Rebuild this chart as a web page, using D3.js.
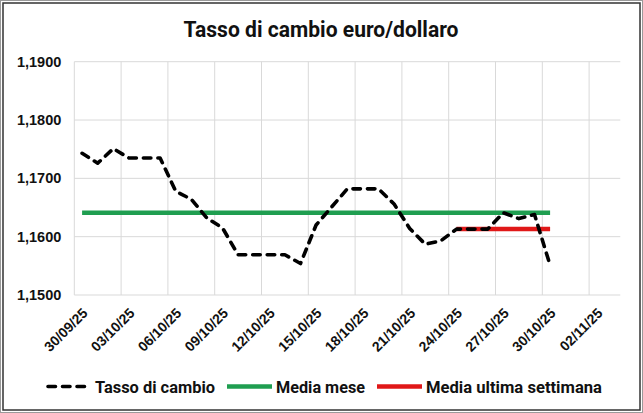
<!DOCTYPE html>
<html><head><meta charset="utf-8">
<script src="https://cdn.jsdelivr.net/npm/d3@7"></script>
<style>body{margin:0;background:#fff}svg{display:block}</style>
</head><body><svg id="c" width="643" height="413"></svg>
<script>
// ---- data ----
const dates = ["2025-09-30","2025-10-01","2025-10-02","2025-10-03","2025-10-04","2025-10-05","2025-10-06","2025-10-07","2025-10-08","2025-10-09","2025-10-10","2025-10-11","2025-10-12","2025-10-13","2025-10-14","2025-10-15","2025-10-16","2025-10-17","2025-10-18","2025-10-19","2025-10-20","2025-10-21","2025-10-22","2025-10-23","2025-10-24","2025-10-25","2025-10-26","2025-10-27","2025-10-28","2025-10-29","2025-10-30"];
const rates = [1.1743,1.1726,1.1751,1.1735,1.1735,1.1735,1.1678,1.1664,1.1632,1.1615,1.1569,1.1569,1.1569,1.1569,1.1554,1.1620,1.1651,1.1682,1.1682,1.1682,1.1656,1.1614,1.1587,1.1593,1.1613,1.1613,1.1613,1.1641,1.1631,1.1638,1.1551];
const monthMean = 1.1641;
const weekMean = 1.1613;
const weekStart = "2025-10-24";
const yTicks = [1.15,1.16,1.17,1.18,1.19];
const xTicks = ["2025-09-30","2025-10-03","2025-10-06","2025-10-09","2025-10-12","2025-10-15","2025-10-18","2025-10-21","2025-10-24","2025-10-27","2025-10-30","2025-11-02"];
const axisStart = "2025-09-30", axisEnd = "2025-11-04";
const title = "Tasso di cambio euro/dollaro";
const seriesNames = ["Tasso di cambio","Media mese","Media ultima settimana"];

// ---- layout ----
const svg = d3.select("#c");
const parse = d3.utcParse("%Y-%m-%d");
const fmt = d3.utcFormat("%d/%m/%y");
const half = 12*3600*1000;
const mid = s => new Date(parse(s).getTime()+half);
const x = d3.scaleUtc().domain([parse(axisStart), parse(axisEnd)]).range([74.3, 620.3]);
const y = d3.scaleLinear().domain([1.15,1.19]).range([295, 61.7]);
const GREEN="#1f9e50", RED="#e01818";

svg.append("rect").attr("x",0.5).attr("y",0.5).attr("width",642).attr("height",412).attr("fill","#fff").attr("stroke","#9a9a9a");
svg.append("rect").attr("x",3).attr("y",3).attr("width",637).attr("height",407).attr("fill","none").attr("stroke","#333").attr("stroke-width",1.5);

svg.append("text").attr("x",321).attr("y",36.5).attr("text-anchor","middle")
  .attr("font-family","Roboto, 'Liberation Sans', sans-serif").attr("font-weight",700).attr("font-size",22)
  .attr("textLength",275).attr("lengthAdjust","spacingAndGlyphs").attr("fill","#111").text(title);

// grid
const g = svg.append("g");
g.selectAll("line.h").data(yTicks).join("line")
  .attr("x1",x.range()[0]).attr("x2",x.range()[1]).attr("y1",d=>y(d)).attr("y2",d=>y(d))
  .attr("stroke","#d9d9d9").attr("stroke-width",1);
g.selectAll("line.v").data(xTicks).join("line")
  .attr("x1",d=>x(parse(d))).attr("x2",d=>x(parse(d))).attr("y1",y(1.19)).attr("y2",y(1.15))
  .attr("stroke","#d9d9d9").attr("stroke-width",1);

// y axis labels
const yAxis = d3.axisLeft(y).tickValues(yTicks).tickSize(0).tickPadding(13)
  .tickFormat(d=>d3.format(".4f")(d).replace(".",","));
const ya = svg.append("g").attr("transform",`translate(${x.range()[0]},0)`).call(yAxis);
ya.select(".domain").remove();
ya.selectAll("text").attr("font-family","'Liberation Sans', Arial, sans-serif").attr("font-weight",700).attr("font-size",14.5).attr("fill","#111");

// x axis labels
const xAxis = d3.axisBottom(x).tickValues(xTicks.map(mid)).tickSize(0).tickFormat(fmt);
const xa = svg.append("g").attr("transform",`translate(0,${y(1.15)})`).call(xAxis);
xa.select(".domain").remove();
xa.selectAll("text").attr("font-family","'Liberation Sans', Arial, sans-serif").attr("font-weight",700).attr("font-size",14).attr("fill","#111")
  .attr("text-anchor","end").attr("dy",null).attr("y",0)
  .attr("transform","translate(6,19) rotate(-45)");

// series
const pts = dates.map((d,i)=>({d:mid(d), v:rates[i]}));
const line = d3.line().x(p=>x(p.d)).y(p=>y(p.v));
svg.append("path").datum([{d:mid(dates[0]),v:monthMean},{d:mid(dates[dates.length-1]),v:monthMean}])
  .attr("d",line).attr("fill","none").attr("stroke",GREEN).attr("stroke-width",4.5);
svg.append("path").datum([{d:mid(weekStart),v:weekMean},{d:mid(dates[dates.length-1]),v:weekMean}])
  .attr("d",line).attr("fill","none").attr("stroke",RED).attr("stroke-width",4.5);
svg.append("path").datum(pts).attr("d",line).attr("fill","none").attr("stroke","#000")
  .attr("stroke-width",3.6).attr("stroke-dasharray","7.5,7").attr("stroke-linecap","round").attr("stroke-linejoin","round");

// legend
const lg = svg.append("g");
const items = [
  {name:seriesNames[0], x1:48, x2:86, tx:95, tl:120, color:"#000", dash:true},
  {name:seriesNames[1], x1:227, x2:272, tx:276, tl:89, color:GREEN},
  {name:seriesNames[2], x1:377, x2:422, tx:426, tl:176, color:RED}
];
items.forEach(it=>{
  const ly = 386.5;
  lg.append("line").attr("x1",it.x1).attr("x2",it.x2).attr("y1",ly).attr("y2",ly)
    .attr("stroke",it.color).attr("stroke-width",it.dash?3.6:4.5)
    .attr("stroke-dasharray",it.dash?"7.5,7":null).attr("stroke-linecap",it.dash?"round":"butt");
  lg.append("text").attr("x",it.tx).attr("y",393).attr("font-family","Roboto, 'Liberation Sans', sans-serif")
    .attr("font-weight",700).attr("font-size",17).attr("textLength",it.tl).attr("lengthAdjust","spacingAndGlyphs")
    .attr("fill","#111").text(it.name);
});
</script></body></html>
